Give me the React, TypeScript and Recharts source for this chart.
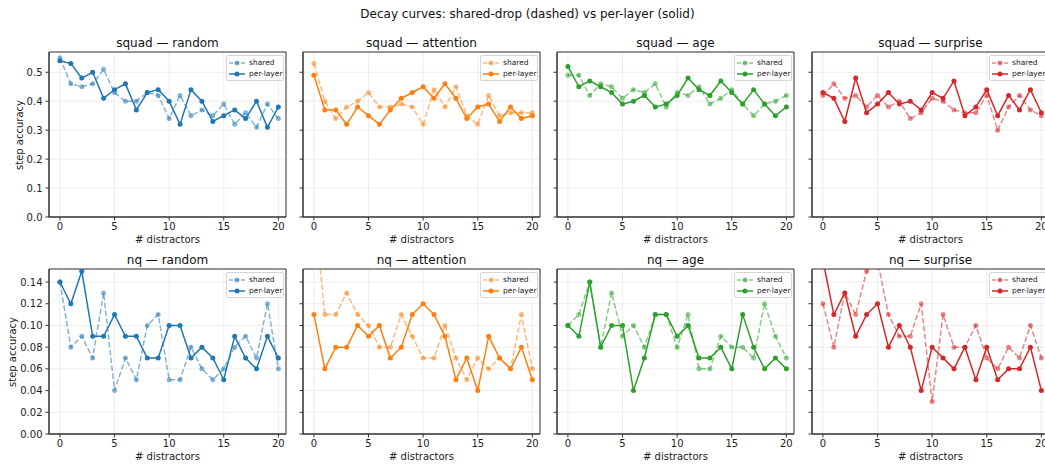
import {
  LineChart,
  Line,
  XAxis,
  YAxis,
  CartesianGrid,
  ReferenceArea
} from "recharts";

const distractors = [0, 1, 2, 3, 4, 5, 6, 7, 8, 9, 10, 11, 12, 13, 14, 15, 16, 17, 18, 19, 20];

const squadTicks = [0, 0.1, 0.2, 0.3, 0.4, 0.5];
const nqTicks = [0, 0.02, 0.04, 0.06, 0.08, 0.1, 0.12, 0.14];
const xTicks = [0, 5, 10, 15, 20];

// squad
const squadRandomShared = [0.55, 0.46, 0.45, 0.46, 0.51, 0.43, 0.40, 0.40, 0.43, 0.42, 0.34, 0.42, 0.35, 0.37, 0.35, 0.39, 0.32, 0.36, 0.31, 0.39, 0.34];
const squadRandomPerLayer = [0.54, 0.53, 0.48, 0.50, 0.41, 0.44, 0.46, 0.37, 0.43, 0.44, 0.40, 0.32, 0.44, 0.40, 0.33, 0.35, 0.37, 0.34, 0.40, 0.31, 0.38];
const squadAttentionShared = [0.53, 0.40, 0.34, 0.38, 0.40, 0.43, 0.38, 0.38, 0.39, 0.38, 0.32, 0.44, 0.38, 0.45, 0.35, 0.32, 0.42, 0.35, 0.36, 0.36, 0.36];
const squadAttentionPerLayer = [0.49, 0.37, 0.37, 0.32, 0.38, 0.35, 0.32, 0.37, 0.41, 0.43, 0.45, 0.41, 0.46, 0.41, 0.34, 0.38, 0.39, 0.33, 0.38, 0.34, 0.35];
const squadAgeShared = [0.49, 0.49, 0.42, 0.46, 0.45, 0.41, 0.44, 0.43, 0.46, 0.38, 0.43, 0.42, 0.45, 0.39, 0.41, 0.44, 0.39, 0.35, 0.39, 0.40, 0.42];
const squadAgePerLayer = [0.52, 0.45, 0.47, 0.45, 0.43, 0.39, 0.40, 0.42, 0.38, 0.39, 0.42, 0.48, 0.44, 0.42, 0.47, 0.43, 0.39, 0.44, 0.39, 0.35, 0.38];
const squadSurpriseShared = [0.42, 0.46, 0.41, 0.42, 0.38, 0.42, 0.38, 0.40, 0.34, 0.36, 0.41, 0.40, 0.37, 0.36, 0.36, 0.42, 0.30, 0.38, 0.42, 0.37, 0.35];
const squadSurprisePerLayer = [0.43, 0.41, 0.33, 0.48, 0.36, 0.39, 0.43, 0.39, 0.40, 0.37, 0.43, 0.41, 0.47, 0.35, 0.38, 0.44, 0.35, 0.42, 0.37, 0.44, 0.36];

// nq
const nqRandomShared = [0.14, 0.08, 0.09, 0.07, 0.13, 0.04, 0.07, 0.05, 0.10, 0.11, 0.05, 0.05, 0.08, 0.06, 0.05, 0.06, 0.08, 0.09, 0.07, 0.12, 0.06];
const nqRandomPerLayer = [0.14, 0.12, 0.15, 0.09, 0.09, 0.11, 0.09, 0.09, 0.07, 0.07, 0.10, 0.10, 0.07, 0.08, 0.07, 0.05, 0.09, 0.07, 0.06, 0.09, 0.07];
const nqAttentionShared = [0.21, 0.11, 0.11, 0.13, 0.11, 0.10, 0.08, 0.08, 0.11, 0.09, 0.07, 0.07, 0.10, 0.07, 0.05, 0.07, 0.06, 0.07, 0.06, 0.11, 0.06];
const nqAttentionPerLayer = [0.11, 0.06, 0.08, 0.08, 0.10, 0.09, 0.10, 0.07, 0.08, 0.11, 0.12, 0.11, 0.09, 0.05, 0.07, 0.04, 0.09, 0.07, 0.06, 0.08, 0.05];
const nqAgeShared = [0.10, 0.11, 0.14, 0.08, 0.13, 0.09, 0.10, 0.08, 0.11, 0.11, 0.08, 0.11, 0.06, 0.06, 0.09, 0.08, 0.08, 0.07, 0.12, 0.09, 0.07];
const nqAgePerLayer = [0.10, 0.09, 0.14, 0.08, 0.10, 0.10, 0.04, 0.07, 0.11, 0.11, 0.09, 0.10, 0.07, 0.07, 0.08, 0.06, 0.11, 0.08, 0.06, 0.07, 0.06];
const nqSurpriseShared = [0.12, 0.08, 0.13, 0.11, 0.15, 0.16, 0.11, 0.09, 0.09, 0.12, 0.03, 0.11, 0.08, 0.08, 0.10, 0.07, 0.06, 0.08, 0.07, 0.10, 0.07];
const nqSurprisePerLayer = [0.16, 0.11, 0.13, 0.09, 0.11, 0.12, 0.08, 0.10, 0.08, 0.04, 0.08, 0.07, 0.06, 0.08, 0.05, 0.08, 0.05, 0.06, 0.06, 0.08, 0.04];

const BLUE = "#1f77b4";
const ORANGE = "#ff7f0e";
const GREEN = "#2ca02c";
const RED = "#d62728";

const COL_LEFT = [49, 303, 557, 812];
const ROW_TOP = [52, 269];
const YLABEL_X = [20, 13];
const PLOT_W = 237;
const PLOT_H = 165;
const Y_AXIS_W = 49;
const X_DOMAIN: [number, number] = [-1, 20.7];
const Y_MAX = [0.57, 0.152];
const FONT = "'DejaVu Sans', sans-serif";

const panels = [
  { title: "squad — random", row: 0, col: 0, color: BLUE, shared: squadRandomShared, perLayer: squadRandomPerLayer },
  { title: "squad — attention", row: 0, col: 1, color: ORANGE, shared: squadAttentionShared, perLayer: squadAttentionPerLayer },
  { title: "squad — age", row: 0, col: 2, color: GREEN, shared: squadAgeShared, perLayer: squadAgePerLayer },
  { title: "squad — surprise", row: 0, col: 3, color: RED, shared: squadSurpriseShared, perLayer: squadSurprisePerLayer },
  { title: "nq — random", row: 1, col: 0, color: BLUE, shared: nqRandomShared, perLayer: nqRandomPerLayer },
  { title: "nq — attention", row: 1, col: 1, color: ORANGE, shared: nqAttentionShared, perLayer: nqAttentionPerLayer },
  { title: "nq — age", row: 1, col: 2, color: GREEN, shared: nqAgeShared, perLayer: nqAgePerLayer },
  { title: "nq — surprise", row: 1, col: 3, color: RED, shared: nqSurpriseShared, perLayer: nqSurprisePerLayer }
];

function LegendBox({ color, left, top }: { color: string; left: number; top: number }) {
  const entry = (label: string, dashed: boolean) => (
    <div style={{ display: "flex", alignItems: "center", height: 11, whiteSpace: "nowrap" }}>
      <svg width={16} height={8} style={{ flex: "none" }}>
        <line
          x1={0}
          y1={4}
          x2={16}
          y2={4}
          stroke={color}
          strokeWidth={1.5}
          strokeOpacity={dashed ? 0.55 : 1}
          strokeDasharray={dashed ? "4 2" : undefined}
        />
        <circle cx={8} cy={4} r={2.5} fill={color} fillOpacity={dashed ? 0.55 : 1} />
      </svg>
      <span style={{ marginLeft: 4, fontSize: 7.5, color: "#222" }}>{label}</span>
    </div>
  );
  return (
    <div
      style={{
        position: "absolute",
        left,
        top,
        width: 58,
        boxSizing: "border-box",
        padding: "1px 2px",
        border: "1px solid #d6d6d6",
        borderRadius: 2,
        background: "rgba(255,255,255,0.85)",
        lineHeight: "11px",
        overflow: "hidden"
      }}
    >
      {entry("shared", true)}
      {entry("per-layer", false)}
    </div>
  );
}

function Panel({ p }: { p: (typeof panels)[number] }) {
  const data = distractors.map((d, i) => ({ d, shared: p.shared[i], perLayer: p.perLayer[i] }));
  const yMax = Y_MAX[p.row];
  const ticks = p.row === 0 ? squadTicks : nqTicks;
  const digits = p.row === 0 ? 1 : 2;
  const plotLeft = COL_LEFT[p.col];
  const plotTop = ROW_TOP[p.row];

  return (
    <>
      <div
        style={{
          position: "absolute",
          left: plotLeft,
          top: plotTop - 16,
          width: PLOT_W,
          textAlign: "center",
          fontSize: 12,
          lineHeight: "14px",
          color: "#111"
        }}
      >
        {p.title}
      </div>

      <div style={{ position: "absolute", left: plotLeft - Y_AXIS_W, top: plotTop - 5 }}>
        <LineChart
          width={Y_AXIS_W + PLOT_W + 6}
          height={5 + PLOT_H + 24}
          data={data}
          margin={{ top: 5, right: 6, left: 0, bottom: 0 }}
        >
          <CartesianGrid stroke="#e8e8e8" strokeWidth={0.8} />
          <XAxis
            dataKey="d"
            type="number"
            domain={X_DOMAIN}
            ticks={xTicks}
            allowDataOverflow
            height={24}
            tickSize={3.5}
            tickMargin={2}
            stroke="#333"
            tick={{ fontSize: 10, fill: "#222", fontFamily: FONT }}
          />
          <YAxis
            type="number"
            domain={[0, yMax]}
            ticks={ticks}
            allowDataOverflow
            width={Y_AXIS_W}
            tickSize={3.5}
            tickMargin={3}
            stroke="#333"
            tick={{ fontSize: 10, fill: "#222", fontFamily: FONT }}
            tickFormatter={(v: number) => (p.col === 0 ? v.toFixed(digits) : "")}
          />
          <ReferenceArea
            x1={X_DOMAIN[0]}
            x2={X_DOMAIN[1]}
            y1={0}
            y2={yMax}
            fill="none"
            stroke="#333"
            strokeWidth={1}
          />
          <Line
            type="linear"
            dataKey="shared"
            stroke={p.color}
            strokeOpacity={0.55}
            strokeWidth={1.5}
            strokeDasharray="5.5 2.4"
            dot={{ r: 2.5, fill: p.color, fillOpacity: 0.55, strokeWidth: 0 }}
            activeDot={false}
            isAnimationActive={false}
          />
          <Line
            type="linear"
            dataKey="perLayer"
            stroke={p.color}
            strokeWidth={1.5}
            dot={{ r: 2.5, fill: p.color, strokeWidth: 0 }}
            activeDot={false}
            isAnimationActive={false}
          />
        </LineChart>
      </div>

      <div
        style={{
          position: "absolute",
          left: plotLeft,
          top: plotTop + PLOT_H + 17,
          width: PLOT_W,
          textAlign: "center",
          fontSize: 10,
          lineHeight: "12px",
          color: "#222"
        }}
      >
        # distractors
      </div>

      <LegendBox color={p.color} left={plotLeft + PLOT_W - 60} top={plotTop + 3} />
    </>
  );
}

export default function App() {
  return (
    <div
      style={{
        position: "absolute",
        left: 0,
        top: 0,
        width: 1045,
        height: 466,
        overflow: "hidden",
        background: "#fff",
        fontFamily: FONT
      }}
    >
      <div
        style={{
          position: "absolute",
          left: 0,
          top: 6,
          width: 1055,
          textAlign: "center",
          fontSize: 12,
          lineHeight: "16px",
          color: "#111"
        }}
      >
        Decay curves: shared-drop (dashed) vs per-layer (solid)
      </div>

      {ROW_TOP.map((top, r) => (
        <div
          key={top}
          style={{
            position: "absolute",
            left: YLABEL_X[r] - 60,
            top: top + PLOT_H / 2 - 7,
            width: 120,
            textAlign: "center",
            fontSize: 10,
            lineHeight: "14px",
            color: "#222",
            transform: "rotate(-90deg)"
          }}
        >
          step accuracy
        </div>
      ))}

      {panels.map((p) => (
        <Panel key={p.title} p={p} />
      ))}
    </div>
  );
}
